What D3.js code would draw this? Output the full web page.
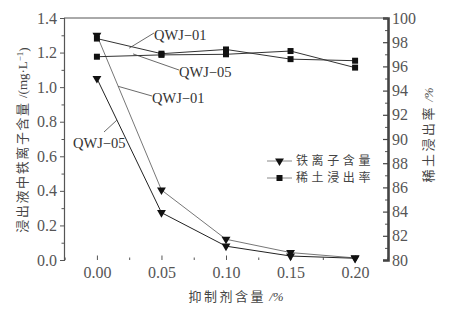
<!DOCTYPE html>
<html>
<head>
<meta charset="utf-8">
<script src="https://cdn.jsdelivr.net/npm/d3@7"></script>
<style>
body { margin: 0; background: #fff; }
</style>
</head>
<body>
<div id="chart"></div>
<script>
// inhibitor dosage / %
var dosage = [0.00, 0.05, 0.10, 0.15, 0.20];
// iron ion content in leachate, mg/L
var ironQWJ01 = [1.30, 0.405, 0.12, 0.043, 0.012];
var ironQWJ05 = [1.05, 0.274, 0.08, 0.023, 0.010];
// rare earth leaching rate, %
var reQWJ01 = [98.3, 97.05, 97.4, 96.6, 96.47];
var reQWJ05 = [96.8, 96.95, 97.0, 97.27, 95.9];
var xTicks = [0.00, 0.05, 0.10, 0.15, 0.20];
var yLeftTicks = [0.0, 0.2, 0.4, 0.6, 0.8, 1.0, 1.2, 1.4];
var yRightTicks = [80, 82, 84, 86, 88, 90, 92, 94, 96, 98, 100];

var SERIF = '"Liberation Serif", "Times New Roman", "DejaVu Serif", serif';
var CJK = '"Noto Sans CJK SC", "Noto Sans", sans-serif';

var margin = {top: 18, right: 63, bottom: 50, left: 64},
    width = 451 - margin.left - margin.right,
    height = 310 - margin.top - margin.bottom;

var svg = d3.select("#chart")
    .append("svg")
    .attr("width", 451)
    .attr("height", 310)
    .append("g")
    .attr("transform", "translate(" + margin.left + "," + margin.top + ")");

var x = d3.scaleLinear().domain([-0.0255, 0.2255]).range([0, width]);
var yL = d3.scaleLinear().domain([0, 1.4]).range([height, 0]);
var yR = d3.scaleLinear().domain([80, 100]).range([height, 0]);

// minor ticks first
svg.append("g")
    .attr("transform", "translate(0," + height + ")")
    .call(d3.axisBottom(x).tickValues([-0.025, 0.025, 0.075, 0.125, 0.175, 0.225]).tickSize(-2.5).tickFormat(""))
    .call(function(g){ g.select(".domain").remove(); g.selectAll("line").attr("stroke", "#555"); });
svg.append("g")
    .call(d3.axisLeft(yL).tickValues(d3.range(0.1, 1.4, 0.2)).tickSize(2.5).tickFormat(""))
    .call(function(g){ g.select(".domain").remove(); g.selectAll("line").attr("stroke", "#555"); });
svg.append("g")
    .attr("transform", "translate(" + width + ",0)")
    .call(d3.axisRight(yR).tickValues(d3.range(81, 100, 2)).tickSize(-3).tickFormat(""))
    .call(function(g){ g.select(".domain").remove(); g.selectAll("line").attr("stroke", "#555"); });

// x axis (no bottom line, ticks inward)
var gx = svg.append("g")
    .attr("transform", "translate(0," + height + ")")
    .call(d3.axisBottom(x).tickValues(xTicks).tickSize(-4.5).tickPadding(7).tickFormat(d3.format(".2f")));
gx.select(".domain").remove();
gx.selectAll("line").attr("stroke", "#555");
gx.selectAll("text").style("font-family", SERIF).style("font-size", "16px").attr("fill", "#555");

// left axis
var gl = svg.append("g")
    .call(d3.axisLeft(yL).tickValues(yLeftTicks).tickSize(4).tickPadding(3).tickFormat(d3.format(".1f")));
gl.select(".domain").attr("stroke", "#555").attr("stroke-width", 1.2);
gl.selectAll("line").attr("stroke", "#555");
gl.selectAll("text").style("font-family", SERIF).style("font-size", "16px").attr("fill", "#555");

// right axis
var gr = svg.append("g")
    .attr("transform", "translate(" + width + ",0)")
    .call(d3.axisRight(yR).tickValues(yRightTicks).tickSize(-5).tickPadding(8).tickFormat(d3.format("d")));
gr.select(".domain").attr("stroke", "#444").attr("stroke-width", 2.6);
gr.selectAll("line").attr("stroke", "#444").attr("stroke-width", 1.2);
gr.selectAll("text").style("font-family", SERIF).style("font-size", "16px").attr("fill", "#555")
    .attr("text-anchor", "start").attr("x", 4);

// top frame line
svg.append("line")
    .attr("x1", 0).attr("x2", width).attr("y1", 0).attr("y2", 0)
    .attr("stroke", "#555").attr("stroke-width", 1);

// series
var series = [
    {vals: ironQWJ01, y: yL, marker: "tri", color: "#777"},
    {vals: ironQWJ05, y: yL, marker: "tri", color: "#222"},
    {vals: reQWJ01, y: yR, marker: "sq", color: "#333"},
    {vals: reQWJ05, y: yR, marker: "sq", color: "#333"}
];

var triSym = d3.symbol().type(d3.symbolTriangle).size(34);
var sqSym = d3.symbol().type(d3.symbolSquare).size(36);

series.forEach(function(s){
    var pts = dosage.map(function(d, i){ return [x(d), s.y(s.vals[i])]; });
    svg.append("path")
        .attr("d", d3.line()(pts))
        .attr("fill", "none")
        .attr("stroke", s.color)
        .attr("stroke-width", 1);
    svg.selectAll(null)
        .data(pts)
        .enter()
        .append("path")
        .attr("d", s.marker == "tri" ? triSym : sqSym)
        .attr("transform", function(p){
            return "translate(" + p[0] + "," + p[1] + ")" + (s.marker == "tri" ? " rotate(180)" : "");
        })
        .attr("fill", "#111");
});

// annotations: label, label position, pointer start on the line
var annots = [
    {text: "QWJ\u221201", tx: 154, ty: 35, from: [x(0.025), yR((reQWJ01[0] + reQWJ01[1]) / 2) + 2]},
    {text: "QWJ\u221205", tx: 179, ty: 72, from: [x(0.028), yR(96.95) - 1]},
    {text: "QWJ\u221201", tx: 152, ty: 98, from: [x(0.0165), yL(1.30 - (1.30 - 0.405) * 0.33)]},
    {text: "QWJ\u221205", tx: 73, ty: 143, from: [x(0.0155), yL(1.05 - (1.05 - 0.274) * 0.31)]}
];
annots.forEach(function(a){
    var tx = a.tx - margin.left, ty = a.ty - margin.top;
    var ex, ey;
    if (a.tx < 100) { ex = tx + 31; ey = ty - 11; }
    else { ex = tx; ey = ty - 2; }
    svg.append("line")
        .attr("x1", a.from[0]).attr("y1", a.from[1])
        .attr("x2", ex).attr("y2", ey)
        .attr("stroke", "#444").attr("stroke-width", 0.8);
    svg.append("text")
        .attr("x", tx).attr("y", ty)
        .attr("dy", "0.35em")
        .style("font-family", SERIF)
        .style("font-size", "14.5px")
        .attr("fill", "#333")
        .text(a.text);
});

// legend
var legendItems = [
    {label: "铁离子含量", marker: "tri"},
    {label: "稀土浸出率", marker: "sq"}
];
var lg = svg.append("g")
    .attr("transform", "translate(" + (267 - margin.left) + "," + (161 - margin.top) + ")");
legendItems.forEach(function(d, i){
    var g = lg.append("g").attr("transform", "translate(0," + (i * 17) + ")");
    g.append("line").attr("x1", 0).attr("x2", 25).attr("y1", 0).attr("y2", 0)
        .attr("stroke", "#888").attr("stroke-width", 1);
    g.append("path")
        .attr("d", d.marker == "tri" ? triSym : sqSym)
        .attr("transform", "translate(12.5,0)" + (d.marker == "tri" ? " rotate(180)" : ""))
        .attr("fill", "#111");
    g.append("text")
        .attr("x", 29).attr("y", 0)
        .attr("dy", "0.36em")
        .style("font-family", CJK)
        .style("font-size", "12px")
        .style("letter-spacing", "3.6px")
        .attr("fill", "#444")
        .text(d.label);
});

// x axis title
var xt = svg.append("text")
    .attr("x", 236 - margin.left)
    .attr("y", 296 - margin.top)
    .attr("text-anchor", "middle")
    .attr("dy", "0.35em")
    .style("font-size", "13px")
    .attr("fill", "#444");
xt.append("tspan").style("font-family", CJK).style("letter-spacing", "2.5px").text("抑制剂含量");
xt.append("tspan").style("font-family", SERIF).style("font-style", "italic").text(" /%");

// left axis title
var yt = svg.append("text")
    .attr("transform", "translate(" + (22 - margin.left) + "," + (140 - margin.top) + ") rotate(-90)")
    .attr("text-anchor", "middle")
    .attr("dy", "0.35em")
    .style("font-size", "13px")
    .attr("fill", "#444");
yt.append("tspan").style("font-family", CJK).style("letter-spacing", "1.6px").text("浸出液中铁离子含量");
yt.append("tspan").style("font-family", SERIF).text(" /(mg\u00b7L");
yt.append("tspan").style("font-family", SERIF).attr("dy", "-0.4em").style("font-size", "9px").text("\u22121");
yt.append("tspan").style("font-family", SERIF).attr("dy", "0.4em").text(")");

// right axis title
var rt = svg.append("text")
    .attr("transform", "translate(" + (428 - margin.left) + "," + (135 - margin.top) + ") rotate(-90)")
    .attr("text-anchor", "middle")
    .attr("dy", "0.35em")
    .style("font-size", "13px")
    .attr("fill", "#444");
rt.append("tspan").style("font-family", CJK).style("letter-spacing", "2.5px").text("稀土浸出率");
rt.append("tspan").style("font-family", SERIF).style("font-style", "italic").text(" /%");
</script>
</body>
</html>
